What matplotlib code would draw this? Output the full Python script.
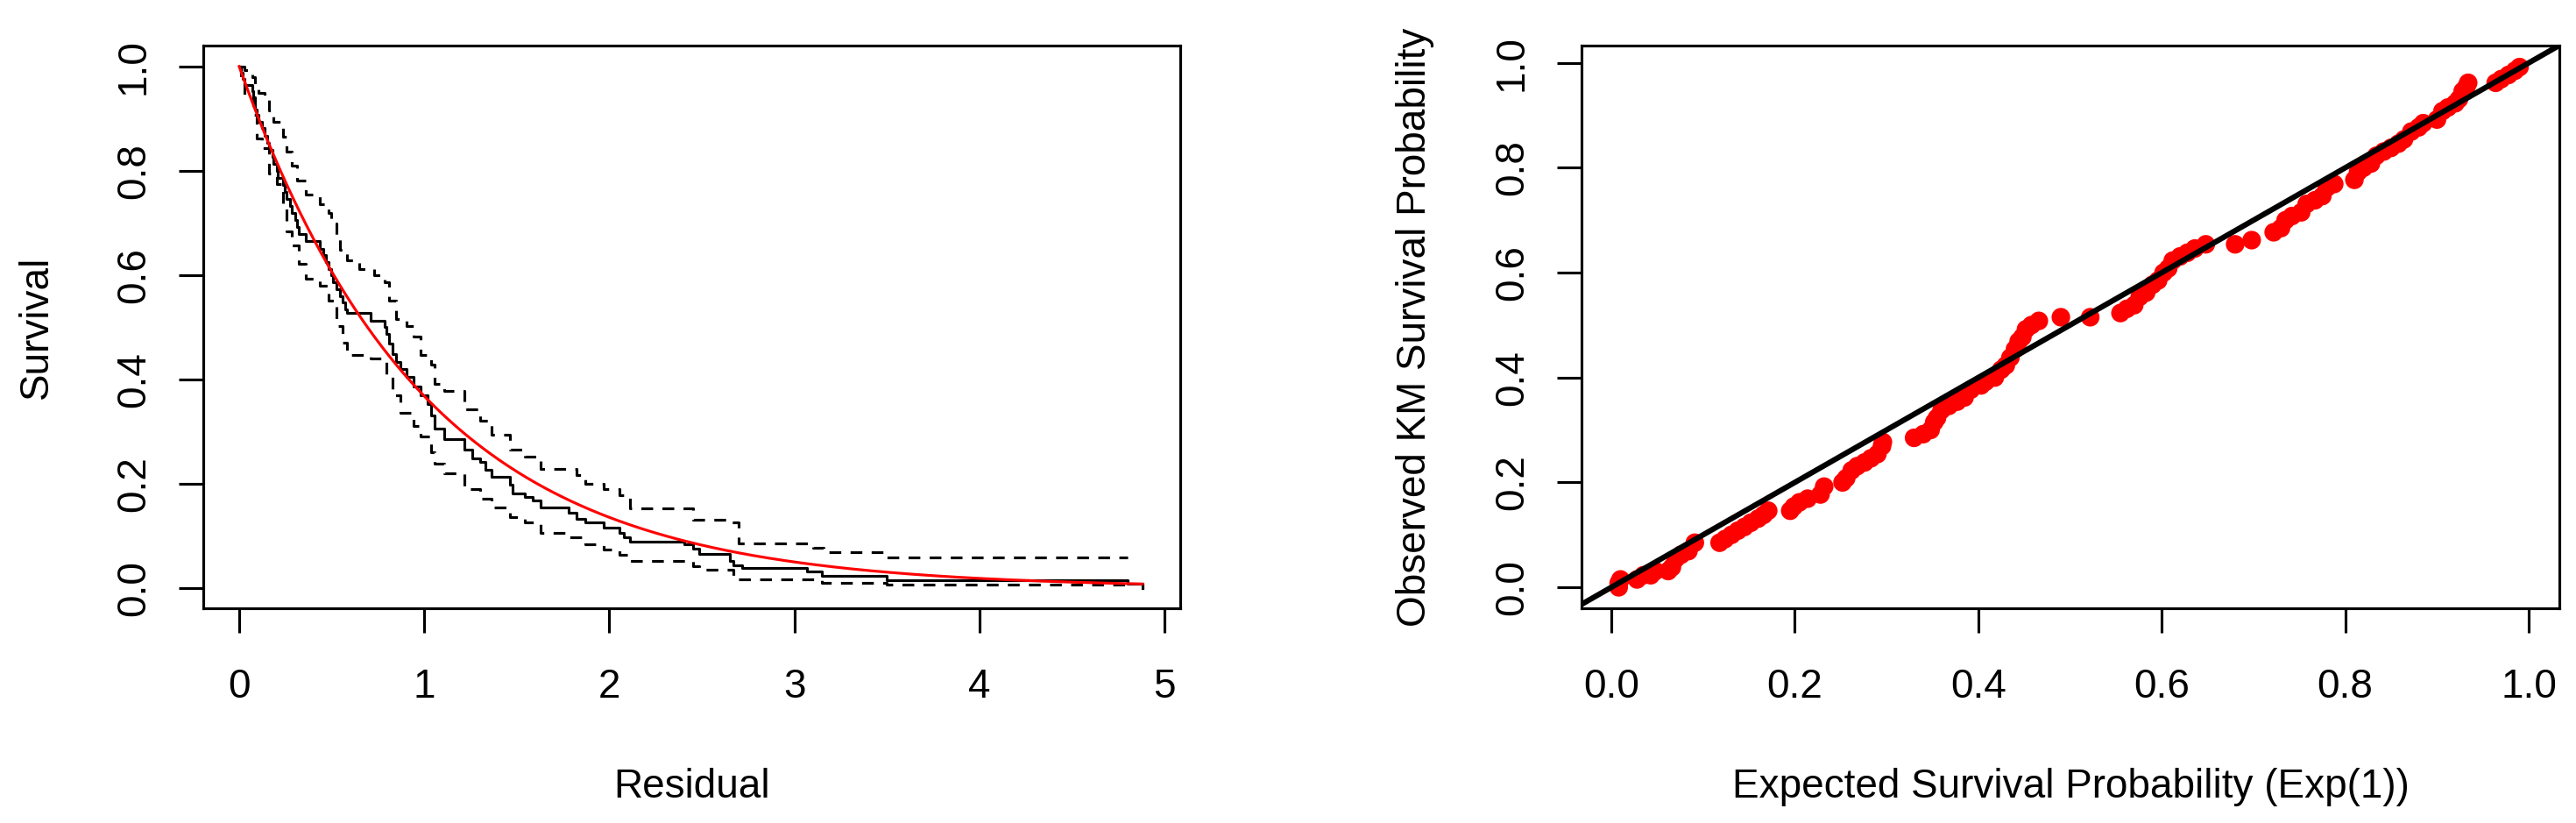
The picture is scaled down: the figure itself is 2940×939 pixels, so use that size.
import numpy as np
import matplotlib
matplotlib.use("Agg")
import matplotlib.pyplot as plt

plt.rcParams['font.family'] = ['Liberation Sans', 'DejaVu Sans']
plt.rcParams['font.size'] = 11

# ---------------- data: left panel (Kaplan-Meier of residuals) ----------------
km_time = [0.000, 0.010, 0.020, 0.030, 0.070, 0.077, 0.084, 0.097, 0.104, 0.124,
           0.137, 0.150, 0.163, 0.179, 0.187, 0.206, 0.210, 0.237, 0.246, 0.255,
           0.274, 0.284, 0.302, 0.312, 0.323, 0.358, 0.436, 0.454, 0.467, 0.483,
           0.496, 0.508, 0.526, 0.543, 0.557, 0.574, 0.584, 0.711, 0.784, 0.796,
           0.812, 0.828, 0.846, 0.870, 0.906, 0.942, 0.981, 1.019, 1.038, 1.058,
           1.110, 1.217, 1.260, 1.300, 1.330, 1.365, 1.461, 1.478, 1.544, 1.586,
           1.630, 1.780, 1.824, 1.872, 1.968, 2.053, 2.077, 2.113, 2.403, 2.451,
           2.487, 2.650, 2.670, 2.716, 3.066, 3.150, 3.500, 4.800, 4.880]
km_surv = [1.000, 0.988, 0.976, 0.965, 0.953, 0.940, 0.918, 0.907, 0.893, 0.882,
           0.867, 0.853, 0.840, 0.827, 0.813, 0.799, 0.786, 0.773, 0.759, 0.746,
           0.733, 0.719, 0.706, 0.692, 0.679, 0.666, 0.650, 0.638, 0.625, 0.612,
           0.599, 0.586, 0.573, 0.560, 0.547, 0.534, 0.527, 0.513, 0.500, 0.487,
           0.468, 0.448, 0.433, 0.419, 0.404, 0.387, 0.370, 0.353, 0.330, 0.305,
           0.286, 0.265, 0.248, 0.241, 0.227, 0.213, 0.198, 0.182, 0.175, 0.168,
           0.154, 0.145, 0.133, 0.125, 0.116, 0.105, 0.097, 0.088, 0.083, 0.075,
           0.066, 0.052, 0.044, 0.038, 0.031, 0.023, 0.015, 0.008, 0.000]

upper_time = [0.000, 0.030, 0.070, 0.084, 0.104, 0.137, 0.163, 0.187, 0.237, 0.255,
              0.284, 0.312, 0.358, 0.436, 0.483, 0.496, 0.526, 0.543, 0.584, 0.650,
              0.731, 0.784, 0.812, 0.846, 0.906, 0.942, 0.981, 1.038, 1.058, 1.110,
              1.217, 1.300, 1.365, 1.461, 1.544, 1.630, 1.824, 1.872, 1.968, 2.053,
              2.113, 2.451, 2.640, 2.700, 3.100, 3.160, 3.500, 4.800]
upper_ci = [1.000, 0.993, 0.980, 0.965, 0.950, 0.935, 0.915, 0.893, 0.865, 0.837,
            0.809, 0.781, 0.754, 0.736, 0.719, 0.698, 0.670, 0.649, 0.628, 0.611,
            0.600, 0.586, 0.551, 0.516, 0.502, 0.482, 0.447, 0.429, 0.391, 0.377,
            0.342, 0.321, 0.293, 0.265, 0.251, 0.229, 0.217, 0.199, 0.189, 0.178,
            0.153, 0.130, 0.125, 0.085, 0.077, 0.068, 0.059, 0.059]

lower_time = [0.000, 0.010, 0.030, 0.077, 0.097, 0.124, 0.163, 0.206, 0.237, 0.255,
              0.284, 0.323, 0.358, 0.436, 0.483, 0.526, 0.557, 0.584, 0.711, 0.796,
              0.828, 0.870, 0.942, 0.981, 1.038, 1.058, 1.110, 1.217, 1.300, 1.365,
              1.461, 1.544, 1.630, 1.780, 1.872, 1.968, 2.053, 2.113, 2.451, 2.487,
              2.670, 3.150, 3.500, 4.800]
lower_ci = [1.000, 0.970, 0.945, 0.907, 0.862, 0.844, 0.795, 0.774, 0.736, 0.684,
            0.656, 0.621, 0.593, 0.579, 0.551, 0.503, 0.471, 0.447, 0.440, 0.405,
            0.370, 0.335, 0.311, 0.290, 0.260, 0.238, 0.220, 0.189, 0.171, 0.154,
            0.136, 0.126, 0.105, 0.097, 0.083, 0.074, 0.063, 0.052, 0.041, 0.035,
            0.017, 0.009, 0.006, 0.006]

exp_curve_max = 4.88   # theoretical Exp(1) survival curve, drawn over [0, max]

# ---------------- data: right panel (expected vs observed) ----------------
expected = [0.008, 0.008, 0.010, 0.028, 0.035, 0.043, 0.048, 0.062, 0.066, 0.070,
            0.076, 0.084, 0.091, 0.118, 0.124, 0.131, 0.138, 0.145, 0.152, 0.160,
            0.166, 0.171, 0.195, 0.199, 0.205, 0.214, 0.228, 0.232, 0.252, 0.256,
            0.262, 0.268, 0.276, 0.283, 0.290, 0.295, 0.296, 0.330, 0.340, 0.348,
            0.352, 0.355, 0.360, 0.368, 0.377, 0.385, 0.392, 0.403, 0.408, 0.418,
            0.425, 0.430, 0.435, 0.440, 0.444, 0.448, 0.452, 0.458, 0.466, 0.490,
            0.522, 0.555, 0.562, 0.570, 0.576, 0.583, 0.590, 0.596, 0.602, 0.607,
            0.612, 0.620, 0.628, 0.636, 0.648, 0.680, 0.698, 0.722, 0.730, 0.735,
            0.742, 0.752, 0.758, 0.767, 0.775, 0.780, 0.788, 0.810, 0.814, 0.820,
            0.828, 0.834, 0.842, 0.850, 0.858, 0.864, 0.872, 0.880, 0.885, 0.900,
            0.906, 0.912, 0.920, 0.924, 0.928, 0.932, 0.934, 0.964, 0.970, 0.978,
            0.985, 0.990]
observed = [0.000, 0.008, 0.015, 0.015, 0.023, 0.023, 0.031, 0.031, 0.038, 0.054,
            0.062, 0.069, 0.085, 0.085, 0.092, 0.100, 0.108, 0.115, 0.123, 0.131,
            0.138, 0.146, 0.146, 0.154, 0.162, 0.169, 0.177, 0.192, 0.200, 0.208,
            0.223, 0.231, 0.238, 0.246, 0.254, 0.269, 0.277, 0.285, 0.292, 0.300,
            0.315, 0.323, 0.338, 0.346, 0.354, 0.362, 0.377, 0.385, 0.392, 0.400,
            0.415, 0.423, 0.438, 0.454, 0.469, 0.477, 0.492, 0.500, 0.508, 0.515,
            0.515, 0.523, 0.531, 0.538, 0.554, 0.562, 0.577, 0.585, 0.600, 0.608,
            0.623, 0.631, 0.638, 0.646, 0.654, 0.654, 0.662, 0.677, 0.685, 0.700,
            0.708, 0.715, 0.731, 0.738, 0.746, 0.762, 0.769, 0.777, 0.792, 0.800,
            0.808, 0.823, 0.831, 0.838, 0.846, 0.854, 0.869, 0.877, 0.885, 0.892,
            0.908, 0.915, 0.923, 0.931, 0.946, 0.954, 0.962, 0.962, 0.969, 0.977,
            0.985, 0.992]

left_xticks = [0, 1, 2, 3, 4, 5]
left_yticks = [0.0, 0.2, 0.4, 0.6, 0.8, 1.0]
right_ticks = [0.0, 0.2, 0.4, 0.6, 0.8, 1.0]

# ---------------- figure ----------------
W, H = 2940, 939
fig = plt.figure(figsize=(W / 300, H / 300), dpi=300)

def frac(x0, x1, ytop, ybot):
    return [x0 / W, 1 - ybot / H, (x1 - x0) / W, (ybot - ytop) / H]

ax1 = fig.add_axes(frac(232, 1347, 52, 694))
ax2 = fig.add_axes(frac(1805, 2921, 52, 694))

LW = 0.75
DASH = (4.3, 3.4)

def style(ax):
    for s in ax.spines.values():
        s.set_linewidth(LW)
        s.set_color('black')
    ax.tick_params(direction='out', length=6.7, width=LW, colors='black',
                   labelsize=11)
    ax.tick_params(axis='x', pad=9.5)
    ax.tick_params(axis='y', pad=7.0)

# left panel
ax1.step(km_time, km_surv, where='post', color='black', lw=LW)
ax1.step(upper_time, upper_ci, where='post', color='black', lw=LW, dashes=DASH)
ax1.step(lower_time, lower_ci, where='post', color='black', lw=LW, dashes=DASH)
xc = np.linspace(0, exp_curve_max, 400)
ax1.plot(xc, np.exp(-xc), color='red', lw=LW)
ax1.set_xlim(-0.194, 5.085)
ax1.set_ylim(-0.039, 1.040)
ax1.set_xticks(left_xticks)
ax1.set_xticklabels([str(v) for v in left_xticks])
ax1.set_yticks(left_yticks)
ax1.set_yticklabels([f"{v:.1f}" for v in left_yticks])
ax1.set_xlabel("Residual", labelpad=17)
ax1.set_ylabel("Survival", labelpad=16)
style(ax1)

# right panel
ax2.scatter(expected, observed, s=26, color='red', edgecolors='none', zorder=2)
ax2.axline((0, 0), (1, 1), color='black', lw=1.5, zorder=3)
ax2.set_xlim(-0.0325, 1.0334)
ax2.set_ylim(-0.040, 1.033)
ax2.set_xticks(right_ticks)
ax2.set_xticklabels([f"{v:.1f}" for v in right_ticks])
ax2.set_yticks(right_ticks)
ax2.set_yticklabels([f"{v:.1f}" for v in right_ticks])
ax2.set_xlabel("Expected Survival Probability (Exp(1))", labelpad=17)
ax2.set_ylabel("Observed KM Survival Probability", labelpad=16)
style(ax2)

for ax in (ax1, ax2):
    for lab in ax.get_yticklabels():
        lab.set_rotation(90)
        lab.set_va('center')

fig.savefig("out.png", dpi=300, facecolor='white')
